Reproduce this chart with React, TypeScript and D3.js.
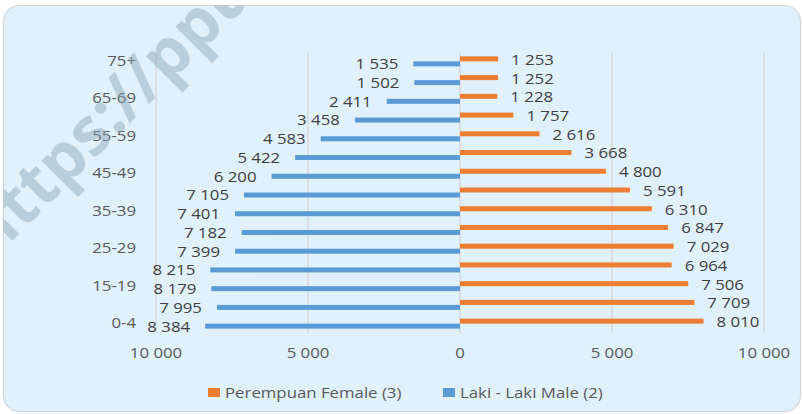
import React from "react";
import * as d3 from "d3";

const categories = ["0-4", "5-14", "15-19", "20-24", "25-29", "30-34", "35-39", "40-44", "45-49", "50-54", "55-59", "60-64", "65-69", "70-74", "75+"];
const male = [8384, 7995, 8179, 8215, 7399, 7182, 7401, 7105, 6200, 5422, 4583, 3458, 2411, 1502, 1535];
const female = [8010, 7709, 7506, 6964, 7029, 6847, 6310, 5591, 4800, 3668, 2616, 1757, 1228, 1252, 1253];
const xTicks = [-10000, -5000, 0, 5000, 10000];
const seriesNames = ["Perempuan Female (3)", "Laki - Laki Male (2)"];

const W = 803, H = 414;
const FEMALE = "#ED7D31", MALE = "#5B9BD5";
const FONT = "'Open Sans', sans-serif";
const SX = 1.2;

const fmt = (v: number) => {
  const s = Math.abs(v).toString();
  return s.replace(/\B(?=(\d{3})+(?!\d))/g, "\u00A0");
};

const T = ({ x, y, anchor = "start", fill = "#595959", size = 14, children }: any) => (
  <text
    transform={`translate(${x},${y}) scale(${SX},1)`}
    textAnchor={anchor}
    dominantBaseline="central"
    fontFamily={FONT}
    fontSize={size}
    fill={fill}
  >
    {children}
  </text>
);

export default function App() {
  const x = d3.scaleLinear().domain([-10000, 10000]).range([156, 764]);
  const y = d3.scaleBand<string>().domain(categories.slice().reverse()).range([52, 333]).padding(0);
  const bh = 5;
  const yc = (c: string) => (y(c) as number) + y.bandwidth() / 2;

  return (
    <svg width={W} height={H} style={{ position: "absolute", left: 0, top: 0 }}>
      <defs>
        <clipPath id="card">
          <rect x={3.5} y={5.5} width={797} height={406} rx={16} />
        </clipPath>
      </defs>
      <rect x={0} y={0} width={W} height={H} fill="#ffffff" />
      <rect x={3.5} y={5.5} width={797} height={406} rx={16} fill="#E1F1FC" stroke="#D3D6D9" strokeWidth={1.2} />
      {xTicks.map((t) => (
        <line key={t} x1={x(t)} x2={x(t)} y1={52} y2={333} stroke="#D6D9DC" strokeWidth={1.5} />
      ))}
      {categories.map((c, i) => (
        <g key={c}>
          <rect x={x(0)} y={yc(c) - bh} width={x(female[i]) - x(0)} height={bh} fill={FEMALE} />
          <rect x={x(-male[i])} y={yc(c)} width={x(0) - x(-male[i])} height={bh} fill={MALE} />
          <T x={x(female[i]) + 13} y={yc(c) - 2} fill="#404040">{fmt(female[i])}</T>
          <T x={x(-male[i]) - 15} y={yc(c) + 2.5} anchor="end" fill="#404040">{fmt(male[i])}</T>
        </g>
      ))}
      {categories.map((c, i) =>
        i % 2 === 0 ? (
          <T key={"l" + c} x={136} y={yc(c) - 1} anchor="end">{c}</T>
        ) : null
      )}
      {xTicks.map((t) => (
        <T key={"t" + t} x={x(t)} y={353} anchor="middle">{t === 0 ? "0" : fmt(t)}</T>
      ))}
      <rect x={208} y={388} width={12} height={9} fill={FEMALE} />
      <T x={225} y={393}>{seriesNames[0]}</T>
      <rect x={443} y={388} width={12} height={9} fill={MALE} />
      <T x={460} y={393}>{seriesNames[1]}</T>
      <g clipPath="url(#card)">
        <text
          transform="translate(-8,261) rotate(-45)"
          fontFamily={FONT}
          fontWeight={700}
          fontSize={66}
          fill="#8AA5B5"
          opacity={0.45}
        >
          https://ppu
        </text>
      </g>
    </svg>
  );
}
